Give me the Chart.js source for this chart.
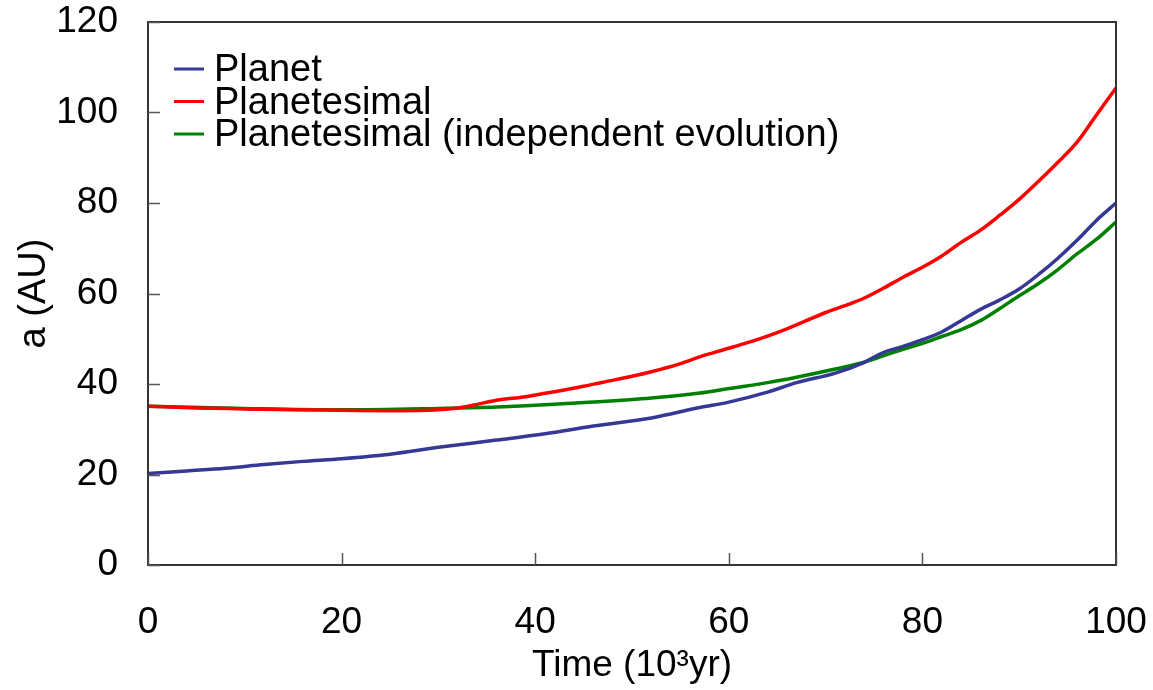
<!DOCTYPE html>
<html>
<head>
<meta charset="utf-8">
<script src="https://cdn.jsdelivr.net/npm/chart.js@4/dist/chart.umd.min.js"></script>
<style>
  html, body { margin: 0; padding: 0; background: #fff; }
  #wrap { width: 1153px; height: 690px; }
</style>
</head>
<body>
<div id="wrap"><canvas id="orbitChart" width="1153" height="690"></canvas></div>
<script>
// values (time in 10^3 yr, semi-major axis in AU)
const planetTime = [0, 4, 8, 12, 16, 20, 25, 30, 36, 41, 46, 52, 57, 60, 64, 67, 71, 74, 76, 78, 80, 82, 84, 86, 88, 90, 92, 94, 96, 98, 100];
const planetA    = [20.2, 20.8, 21.4, 22.2, 22.9, 23.5, 24.5, 26.0, 27.6, 29.0, 30.7, 32.5, 34.8, 36.0, 38.2, 40.3, 42.4, 44.8, 47.0, 48.3, 49.8, 51.5, 54.0, 56.5, 58.6, 61.0, 64.2, 67.8, 71.8, 76.2, 80.0];

const planetesimalTime = [0, 5, 10, 15, 20, 25, 30, 32, 34, 36, 39, 42, 45, 47, 50, 52, 55, 57, 60, 62, 64, 66, 68, 70, 72, 74, 76, 78, 80, 82, 84, 86, 88, 90, 92, 94, 96, 98, 99, 100];
const planetesimalA    = [35.1, 34.7, 34.5, 34.3, 34.2, 34.1, 34.3, 34.7, 35.5, 36.4, 37.2, 38.3, 39.5, 40.4, 41.7, 42.7, 44.5, 46.0, 47.9, 49.2, 50.6, 52.2, 54.0, 55.8, 57.3, 59.0, 61.2, 63.6, 65.8, 68.3, 71.3, 74.0, 77.3, 80.8, 84.8, 89.0, 93.5, 99.5, 102.5, 105.4];

const independentTime = [0, 10, 20, 30, 36, 41, 46, 52, 57, 60, 64, 67, 71, 74, 77, 80, 82, 84, 86, 88, 90, 92, 94, 96, 98, 100];
const independentA    = [35.1, 34.6, 34.3, 34.6, 34.9, 35.4, 36.0, 36.9, 38.0, 39.0, 40.3, 41.5, 43.3, 44.8, 47.0, 49.0, 50.5, 52.0, 54.0, 56.7, 59.5, 62.2, 65.3, 68.8, 72.0, 75.8];

const xTicks = [0, 20, 40, 60, 80, 100];
const yTicks = [0, 20, 40, 60, 80, 100, 120];

const toPoints = (xs, ys) => xs.map((x, i) => ({ x: x, y: ys[i] }));

const FONT = '"Liberation Sans", Arial, Helvetica, sans-serif';

// frame box + inward ticks on left and bottom axes
const frameTicks = {
  id: 'frameTicks',
  afterDraw(chart) {
    const { ctx, chartArea } = chart;
    const xs = chart.scales.x, ys = chart.scales.y;
    ctx.save();
    ctx.strokeStyle = '#333';
    ctx.lineWidth = 2;
    ctx.strokeRect(chartArea.left, chartArea.top, chartArea.right - chartArea.left, chartArea.bottom - chartArea.top);
    ctx.lineWidth = 1.5;
    ctx.strokeStyle = '#555';
    ctx.beginPath();
    xTicks.forEach(v => {
      const px = Math.round(xs.getPixelForValue(v)) + 0.5;
      ctx.moveTo(px, chartArea.bottom);
      ctx.lineTo(px, chartArea.bottom - 12);
    });
    yTicks.forEach(v => {
      const py = Math.round(ys.getPixelForValue(v)) + 0.5;
      ctx.moveTo(chartArea.left, py);
      ctx.lineTo(chartArea.left + 12, py);
    });
    ctx.stroke();
    ctx.restore();
  }
};

// legend drawn inside the plot, top left
const insideLegend = {
  id: 'insideLegend',
  afterDraw(chart) {
    const { ctx, chartArea } = chart;
    ctx.save();
    ctx.font = '38px ' + FONT;
    ctx.textBaseline = 'middle';
    ctx.fillStyle = '#000';
    chart.data.datasets.forEach((ds, i) => {
      const y = chartArea.top + 47 + i * 32.5;
      ctx.strokeStyle = ds.borderColor;
      ctx.lineWidth = 3;
      ctx.beginPath();
      ctx.moveTo(chartArea.left + 26, y);
      ctx.lineTo(chartArea.left + 56, y);
      ctx.stroke();
      ctx.fillText(ds.label, chartArea.left + 66, y + 2);
    });
    ctx.restore();
  }
};

new Chart(document.getElementById('orbitChart'), {
  type: 'line',
  data: {
    datasets: [
      {
        label: 'Planet',
        data: toPoints(planetTime, planetA),
        borderColor: '#363896',
        borderWidth: 3.5,
        pointRadius: 0,
        cubicInterpolationMode: 'monotone'
      },
      {
        label: 'Planetesimal',
        data: toPoints(planetesimalTime, planetesimalA),
        borderColor: '#ff0000',
        borderWidth: 3.5,
        pointRadius: 0,
        cubicInterpolationMode: 'monotone'
      },
      {
        label: 'Planetesimal (independent evolution)',
        data: toPoints(independentTime, independentA),
        borderColor: '#008000',
        borderWidth: 3.5,
        pointRadius: 0,
        cubicInterpolationMode: 'monotone'
      }
    ]
  },
  options: {
    responsive: false,
    animation: false,
    layout: { padding: { top: 22, right: 37, left: 0, bottom: 0 } },
    plugins: {
      legend: { display: false },
      tooltip: { enabled: false }
    },
    scales: {
      x: {
        type: 'linear',
        min: 0,
        max: 100,
        afterBuildTicks: scale => { scale.ticks = xTicks.map(v => ({ value: v })); },
        afterFit: scale => { scale.height = 125; scale.paddingLeft = 0; scale.paddingRight = 0; },
        grid: { display: false, drawTicks: false },
        border: { display: false },
        ticks: { color: '#000', font: { family: FONT, size: 37 }, padding: 36, maxRotation: 0 },
        title: { display: true, text: 'Time (10³yr)', color: '#000', font: { family: FONT, size: 37 }, padding: { top: 0, bottom: 2 } }
      },
      y: {
        min: 0,
        max: 120,
        afterBuildTicks: scale => { scale.ticks = yTicks.map(v => ({ value: v })); },
        afterFit: scale => { scale.width = 148; scale.paddingTop = 0; scale.paddingBottom = 0; },
        grid: { display: false, drawTicks: false },
        border: { display: false },
        ticks: { color: '#000', font: { family: FONT, size: 37 }, padding: 30 },
        title: { display: true, text: 'a (AU)', color: '#000', font: { family: FONT, size: 38 }, padding: { top: 12, bottom: 0 } }
      }
    }
  },
  plugins: [frameTicks, insideLegend]
});
</script>
</body>
</html>
